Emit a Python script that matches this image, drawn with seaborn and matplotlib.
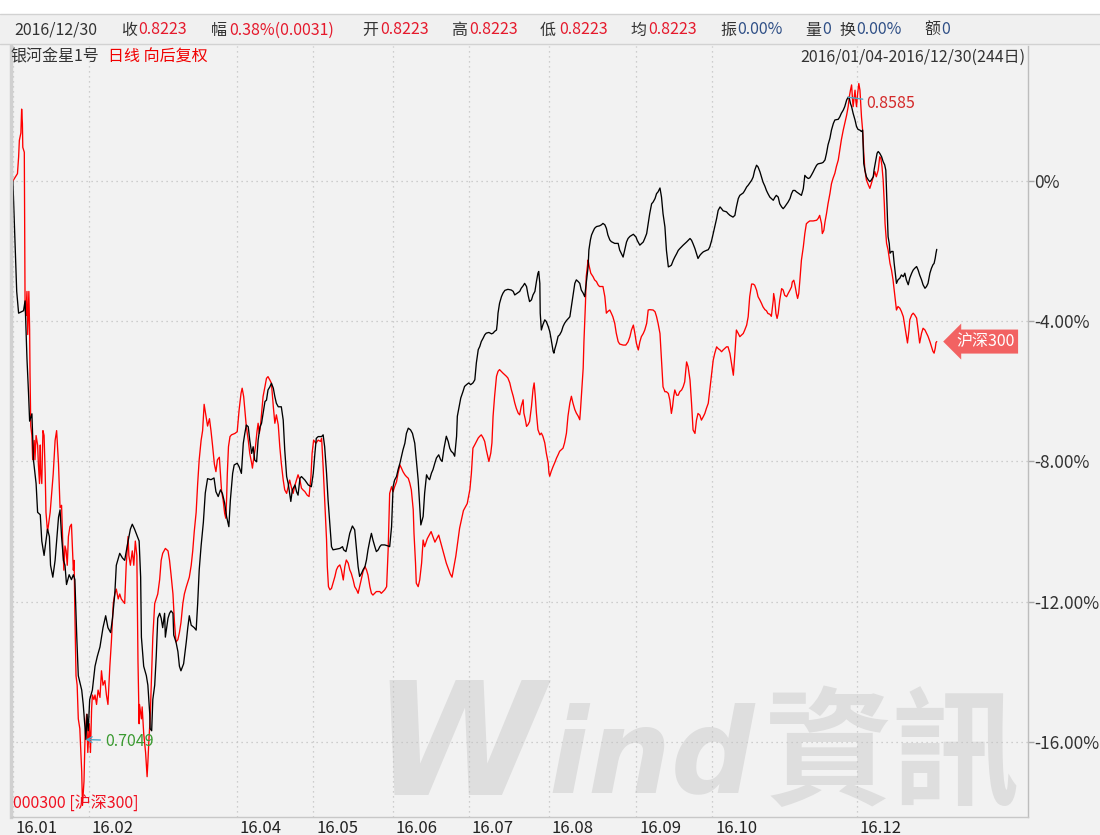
import numpy as np
import pandas as pd
import seaborn as sns
import matplotlib.pyplot as plt
from matplotlib.patches import Rectangle
from matplotlib.lines import Line2D
from matplotlib.ticker import MultipleLocator
from matplotlib.transforms import ScaledTranslation

# 银河金星1号 (black), cumulative change vs 2016/01/04, in %, by trading-day index
fund_day = [0.0, 0.6, 1.0, 1.5, 2.8, 3.2, 3.7, 4.1, 4.4, 5.0, 5.4, 6.1, 6.5, 7.2, 7.6, 8.2, 8.7, 9.1, 9.6, 9.9,
            10.5, 11.1, 11.5, 12.0, 12.4, 12.8, 13.3, 13.7, 14.1, 14.8, 15.4, 15.9, 16.3, 16.8, 17.2, 18.1, 18.5, 19.2, 19.5, 19.8,
            20.2, 20.9, 21.6, 22.2, 22.9, 23.7, 24.4, 25.0, 25.7, 26.2, 26.8, 27.2, 28.1, 28.8, 29.4, 30.3, 30.9, 31.4, 32.0, 32.5,
            33.2, 33.6, 33.8, 34.4, 35.1, 35.5, 36.0, 36.1, 36.5, 36.8, 37.3, 37.7, 38.1, 38.6, 39.0, 39.4, 39.9, 40.1, 40.8, 41.2,
            41.6, 42.1, 42.3, 42.9, 43.4, 43.8, 44.2, 44.9, 45.6, 46.0, 46.4, 46.9, 47.7, 48.2, 48.6, 49.0, 49.5, 50.1, 50.6, 51.2,
            52.1, 52.9, 53.4, 54.0, 54.6, 55.1, 55.7, 56.2, 56.8, 57.2, 57.8, 58.2, 59.0, 59.5, 60.1, 60.6, 61.0, 61.4, 61.9, 62.3,
            62.8, 63.2, 63.6, 64.1, 64.5, 65.0, 65.4, 65.8, 66.3, 66.7, 67.1, 67.6, 68.0, 68.5, 68.9, 69.3, 69.8, 70.6, 71.1, 71.5,
            72.0, 72.4, 72.8, 73.1, 73.5, 74.2, 74.6, 75.0, 75.5, 75.9, 76.8, 77.7, 78.5, 79.0, 79.4, 79.8, 80.3, 81.2, 81.6, 82.0,
            82.5, 82.9, 83.4, 83.8, 84.2, 85.1, 86.0, 86.7, 87.0, 87.6, 87.9, 88.6, 89.3, 89.9, 90.4, 90.8, 91.2, 91.7, 92.1, 92.6,
            93.0, 93.4, 93.9, 94.3, 94.7, 95.2, 95.6, 96.1, 96.5, 96.9, 97.8, 98.7, 99.1, 99.6, 100.0, 100.4, 100.9, 101.3, 101.8, 102.2,
            102.6, 103.1, 103.5, 104.0, 104.6, 105.1, 105.7, 106.1, 106.6, 107.0, 107.3, 107.9, 108.3, 108.8, 109.2, 109.6, 110.1, 110.5, 111.0, 111.4,
            112.0, 112.5, 112.9, 113.4, 114.0, 114.5, 114.9, 115.3, 115.8, 116.2, 116.7, 116.9, 117.4, 117.8, 118.4, 118.8, 119.3, 119.9, 120.4, 121.0,
            121.5, 121.9, 122.4, 122.8, 123.2, 123.7, 124.1, 124.5, 125.2, 125.9, 126.3, 126.7, 127.2, 127.4, 127.6, 128.0, 128.5, 128.9, 129.4, 130.2,
            131.1, 131.6, 132.0, 132.4, 132.9, 133.3, 133.7, 134.2, 134.6, 135.1, 135.5, 135.9, 136.4, 136.8, 137.3, 137.7, 138.1, 138.3, 138.6, 138.7,
            139.0, 139.4, 139.9, 140.3, 140.8, 141.2, 141.6, 142.1, 142.3, 142.5, 143.0, 143.4, 143.8, 144.3, 144.7, 145.1, 145.6, 146.2, 146.5, 146.9,
            147.3, 147.8, 148.2, 148.7, 149.1, 149.5, 150.0, 150.4, 150.6, 150.8, 151.3, 151.5, 151.9, 152.2, 152.6, 153.0, 153.5, 154.3, 154.8, 155.2,
            155.7, 156.1, 156.5, 157.0, 157.4, 158.3, 159.2, 159.6, 160.0, 160.5, 161.0, 161.4, 161.8, 162.3, 163.2, 163.9, 164.2, 164.9, 165.3, 165.8,
            166.2, 166.7, 167.1, 167.5, 168.0, 168.4, 168.9, 169.3, 169.7, 170.2, 170.6, 171.0, 171.5, 171.9, 172.4, 172.8, 173.2, 173.7, 174.1, 174.6,
            175.0, 175.4, 176.3, 177.2, 178.1, 178.5, 178.9, 179.4, 179.8, 180.2, 180.7, 181.1, 181.6, 182.4, 182.9, 183.3, 183.8, 184.2, 184.6, 185.1,
            185.5, 186.0, 186.4, 186.8, 187.7, 188.1, 188.6, 189.4, 189.9, 190.3, 190.8, 191.2, 192.1, 192.5, 193.0, 193.4, 193.8, 194.3, 194.7, 195.1,
            195.6, 196.0, 196.5, 196.9, 197.3, 197.8, 198.2, 198.6, 199.1, 199.5, 200.0, 200.4, 200.8, 201.3, 201.7, 202.2, 202.6, 203.0, 203.5, 203.9,
            204.4, 204.8, 205.2, 205.7, 206.1, 207.0, 207.4, 207.9, 208.3, 208.7, 209.2, 209.6, 210.0, 210.5, 210.9, 211.4, 211.8, 212.7, 213.1, 213.6,
            214.0, 214.4, 214.9, 215.3, 215.8, 216.2, 217.1, 217.5, 217.9, 218.4, 218.8, 219.3, 219.7, 220.0, 220.3, 220.6, 221.0, 221.5, 221.9, 222.3,
            222.8, 223.2, 223.5, 223.8, 224.1, 224.5, 225.0, 225.4, 225.8, 226.3, 226.5, 227.0, 227.3, 227.6, 228.0, 228.5, 228.9, 229.3, 229.6, 229.8,
            230.0, 230.2, 230.5, 230.7, 231.1, 231.5, 231.8, 232.1, 232.4, 232.8, 233.3, 233.7, 234.2, 234.6, 235.0, 235.5, 235.9, 236.4, 236.8, 237.2,
            237.7, 238.1, 238.5, 239.0, 239.4, 239.9, 240.3, 240.7, 241.2, 241.6, 242.0, 242.3, 242.6, 242.8, 243.0]
fund_pct = [0.00, -1.92, -3.15, -3.77, -3.70, -3.42, -5.07, -6.03, -6.85, -6.64, -7.95, -8.63, -9.45, -9.52, -10.27, -10.68, -10.27, -9.93, -10.14, -10.96,
            -11.30, -10.82, -10.27, -9.59, -9.38, -10.14, -10.82, -10.96, -11.51, -11.23, -11.37, -11.23, -11.37, -13.01, -14.11, -14.52, -14.93, -15.93, -15.21, -15.68,
            -14.79, -14.52, -13.84, -13.56, -13.29, -12.74, -12.40, -12.74, -12.88, -12.47, -11.78, -10.96, -10.62, -10.75, -10.82, -10.27, -9.93, -9.79, -9.93, -10.07,
            -10.27, -11.30, -13.01, -13.84, -14.11, -14.38, -15.21, -15.62, -15.68, -14.79, -14.38, -13.56, -12.47, -12.33, -12.47, -12.74, -12.33, -13.01, -12.47, -12.33,
            -12.26, -12.33, -12.95, -13.15, -13.42, -13.84, -13.97, -13.77, -13.15, -12.74, -12.40, -12.67, -12.74, -12.81, -12.05, -11.10, -10.41, -9.73, -8.90, -8.49,
            -8.52, -8.47, -8.86, -9.00, -8.81, -8.91, -9.19, -9.57, -9.86, -9.10, -8.34, -8.10, -8.05, -8.15, -8.34, -7.48, -7.20, -6.96, -7.01, -7.39,
            -7.77, -7.58, -7.96, -8.01, -7.39, -7.01, -6.91, -6.63, -6.29, -6.25, -5.96, -5.87, -5.77, -5.91, -6.15, -6.34, -6.44, -6.44, -6.82, -7.67,
            -8.43, -8.62, -8.91, -9.14, -8.81, -8.67, -8.86, -8.96, -8.48, -8.43, -8.53, -8.67, -8.72, -8.34, -7.81, -7.34, -7.29, -7.29, -7.24, -7.58,
            -8.34, -9.10, -9.86, -10.43, -10.52, -10.50, -10.48, -10.43, -10.52, -10.57, -10.43, -10.05, -9.84, -9.95, -10.52, -11.00, -11.28, -11.19, -11.09, -11.00,
            -10.81, -10.52, -10.24, -10.05, -10.24, -10.43, -10.57, -10.52, -10.43, -10.38, -10.38, -10.41, -10.43, -9.86, -8.72, -8.53, -8.43, -8.24, -8.05, -7.86,
            -7.67, -7.48, -7.20, -7.05, -7.10, -7.20, -7.48, -7.96, -8.53, -9.29, -9.81, -9.57, -8.90, -8.38, -8.47, -8.52, -8.33, -8.23, -8.04, -7.90,
            -7.81, -7.95, -8.00, -7.62, -7.28, -7.43, -7.62, -7.71, -7.76, -7.85, -7.28, -6.71, -6.43, -6.19, -6.00, -5.86, -5.81, -5.76, -5.81, -5.76,
            -5.67, -5.19, -4.81, -4.72, -4.58, -4.48, -4.39, -4.34, -4.32, -4.36, -4.34, -4.29, -4.25, -4.06, -3.77, -3.49, -3.30, -3.20, -3.12, -3.09,
            -3.11, -3.15, -3.25, -3.22, -3.18, -3.15, -3.06, -2.99, -2.92, -3.01, -3.25, -3.44, -3.39, -3.25, -3.15, -2.87, -2.63, -2.58, -2.92, -3.77,
            -4.25, -4.10, -3.96, -4.01, -4.15, -4.29, -4.53, -4.86, -4.91, -4.81, -4.62, -4.43, -4.39, -4.29, -4.15, -4.06, -3.98, -3.91, -3.87, -3.58,
            -3.30, -2.92, -2.82, -2.87, -2.92, -3.11, -3.20, -3.30, -3.11, -2.92, -2.44, -1.97, -1.68, -1.54, -1.44, -1.35, -1.30, -1.28, -1.25, -1.21,
            -1.25, -1.35, -1.54, -1.68, -1.73, -1.78, -1.78, -1.97, -2.06, -2.17, -1.93, -1.74, -1.64, -1.58, -1.52, -1.60, -1.69, -1.83, -1.79, -1.74,
            -1.64, -1.50, -1.22, -0.93, -0.65, -0.60, -0.50, -0.36, -0.31, -0.20, -0.46, -0.93, -1.31, -1.98, -2.45, -2.43, -2.40, -2.26, -2.17, -2.07,
            -1.98, -1.93, -1.83, -1.74, -1.64, -1.69, -1.79, -1.93, -2.07, -2.21, -2.12, -2.07, -2.02, -1.98, -1.96, -1.88, -1.69, -1.50, -1.31, -1.07,
            -0.84, -0.74, -0.79, -0.85, -0.88, -0.93, -0.98, -1.03, -0.98, -0.74, -0.50, -0.41, -0.34, -0.27, -0.17, -0.12, -0.06, 0.02, 0.11, 0.30,
            0.45, 0.40, 0.26, 0.11, -0.03, -0.15, -0.27, -0.36, -0.46, -0.50, -0.55, -0.47, -0.41, -0.46, -0.65, -0.74, -0.79, -0.74, -0.66, -0.60,
            -0.50, -0.36, -0.27, -0.27, -0.31, -0.38, -0.41, -0.22, 0.16, 0.11, 0.07, 0.09, 0.16, 0.26, 0.35, 0.45, 0.49, 0.51, 0.53, 0.60,
            0.79, 1.03, 1.22, 1.45, 1.64, 1.74, 1.76, 1.83, 1.93, 2.02, 2.12, 2.31, 2.39, 2.36, 2.21, 2.12, 1.93, 1.74, 1.55, 1.47,
            1.45, 1.41, 1.45, 0.50, 0.31, 0.12, 0.03, -0.02, 0.03, 0.12, 0.31, 0.60, 0.79, 0.84, 0.79, 0.69, 0.55, 0.46, 0.31, -0.35,
            -1.02, -1.59, -1.78, -2.06, -2.01, -2.01, -2.35, -2.63, -2.92, -2.82, -2.77, -2.68, -2.73, -2.63, -2.82, -2.96, -2.77, -2.63, -2.54, -2.49,
            -2.44, -2.54, -2.68, -2.82, -2.96, -3.06, -3.01, -2.92, -2.63, -2.49, -2.39, -2.35, -2.20, -2.06, -1.95]

# 沪深300 (red), same scale
hs300_day = [0.0, 1.2, 1.5, 1.7, 2.1, 2.3, 2.5, 2.6, 3.0, 3.2, 3.4, 3.7, 3.9, 4.2, 4.4, 4.5, 4.7, 5.0, 5.2, 5.6,
             5.8, 6.1, 6.5, 6.7, 7.0, 7.2, 7.3, 7.6, 7.9, 8.2, 8.5, 8.7, 9.1, 9.3, 9.8, 10.2, 10.6, 11.1, 11.5, 12.0,
             12.4, 12.8, 13.1, 13.4, 13.7, 14.0, 14.3, 14.6, 15.0, 15.4, 15.9, 16.1, 16.3, 16.6, 16.9, 17.2, 17.6, 18.1, 18.3, 18.7,
             19.0, 19.4, 19.7, 20.1, 20.4, 20.7, 20.9, 21.3, 21.6, 22.0, 22.4, 22.9, 23.3, 23.7, 24.2, 24.6, 25.0, 25.5, 25.9, 26.4,
             26.8, 27.2, 27.7, 28.1, 28.5, 29.4, 29.8, 30.3, 30.5, 30.9, 31.4, 31.8, 32.2, 32.6, 32.9, 33.2, 33.3, 33.8, 34.0, 34.4,
             34.9, 35.3, 35.5, 35.8, 36.1, 36.4, 36.8, 37.3, 37.7, 38.1, 38.6, 39.0, 39.4, 40.1, 40.8, 41.2, 41.6, 42.1, 42.5, 42.9,
             43.4, 43.8, 44.2, 44.7, 45.1, 45.6, 46.0, 46.4, 46.9, 47.3, 47.7, 48.2, 48.6, 49.0, 49.5, 49.9, 50.3, 50.8, 51.2, 51.7,
             52.1, 52.5, 53.0, 53.4, 53.8, 54.3, 54.9, 55.3, 55.7, 56.0, 56.2, 56.4, 56.7, 57.1, 57.5, 58.4, 59.0, 59.5, 60.0, 60.3,
             60.7, 61.0, 61.4, 61.9, 62.3, 62.8, 63.0, 63.4, 63.8, 64.2, 64.5, 64.8, 65.1, 65.4, 65.8, 66.3, 66.7, 67.1, 67.6, 68.0,
             68.5, 68.9, 69.3, 69.8, 70.2, 70.6, 71.1, 71.5, 72.0, 72.4, 72.8, 73.3, 73.7, 74.2, 74.6, 75.0, 75.5, 75.9, 76.3, 76.8,
             77.4, 77.9, 78.4, 78.7, 79.1, 79.7, 80.3, 80.9, 81.2, 81.6, 82.0, 82.5, 82.7, 83.0, 83.4, 83.8, 84.2, 84.7, 85.1, 85.5,
             86.0, 86.4, 86.9, 87.3, 87.7, 88.2, 88.6, 89.0, 89.5, 89.9, 90.4, 90.8, 91.2, 91.7, 92.1, 92.6, 93.0, 93.4, 93.9, 94.3,
             94.7, 95.6, 96.5, 96.9, 97.8, 98.3, 98.7, 99.1, 99.6, 100.0, 100.4, 100.9, 101.3, 101.8, 102.2, 102.6, 103.1, 103.5, 104.0, 104.4,
             104.8, 105.3, 105.5, 105.9, 106.1, 106.6, 107.0, 107.5, 107.9, 108.3, 109.0, 110.0, 111.0, 112.0, 113.0, 114.0, 115.0, 115.5, 116.5, 117.5,
             118.5, 119.5, 120.2, 120.6, 121.0, 121.5, 122.4, 122.8, 123.2, 123.7, 124.1, 124.5, 125.0, 125.2, 125.7, 126.0, 126.3, 126.7, 127.2, 127.6,
             128.0, 128.9, 129.8, 130.2, 130.7, 131.1, 131.6, 132.0, 132.4, 132.9, 133.3, 133.7, 134.2, 134.4, 134.8, 135.1, 135.5, 135.9, 136.4, 136.8,
             137.1, 137.4, 137.7, 138.1, 138.6, 139.0, 139.4, 139.9, 140.3, 140.8, 141.0, 141.2, 141.6, 142.1, 142.5, 143.0, 143.4, 143.8, 144.3, 144.7,
             145.1, 145.6, 146.0, 146.5, 146.9, 147.3, 147.8, 148.2, 148.7, 149.1, 149.3, 149.7, 150.0, 150.2, 150.6, 150.8, 151.3, 151.5, 152.0, 152.6,
             153.0, 153.5, 153.9, 154.3, 155.2, 155.7, 156.1, 156.5, 157.0, 157.4, 157.8, 158.3, 158.7, 159.2, 159.6, 160.5, 161.2, 161.8, 162.3, 162.7,
             163.2, 163.6, 164.0, 164.5, 164.9, 165.3, 165.8, 166.2, 166.7, 167.1, 167.5, 168.4, 168.9, 169.3, 169.7, 170.2, 170.6, 171.0, 171.5, 171.9,
             172.4, 172.8, 173.2, 173.5, 173.8, 174.1, 174.6, 175.0, 175.4, 175.9, 176.3, 176.7, 177.2, 177.6, 178.1, 178.5, 178.9, 179.4, 179.8, 180.2,
             180.7, 181.1, 181.6, 182.0, 182.4, 182.9, 183.3, 183.8, 184.2, 184.6, 185.1, 185.5, 186.0, 186.4, 186.8, 187.7, 188.1, 188.6, 189.0, 189.5,
             189.9, 190.3, 190.8, 191.2, 191.6, 192.1, 192.5, 193.0, 193.4, 193.8, 194.3, 194.7, 195.1, 195.6, 196.0, 196.5, 196.9, 197.3, 197.8, 198.2,
             198.6, 199.1, 199.5, 200.0, 200.1, 200.4, 200.7, 201.0, 201.3, 201.7, 202.2, 202.6, 203.0, 203.5, 203.9, 204.4, 204.8, 205.0, 205.4, 205.7,
             206.1, 206.4, 206.7, 207.0, 207.4, 207.9, 208.3, 208.7, 209.2, 209.6, 210.5, 211.4, 211.8, 212.2, 212.7, 212.9, 213.3, 213.6, 214.0, 214.4,
             214.9, 215.3, 215.7, 216.2, 216.6, 217.1, 217.5, 217.9, 218.4, 218.8, 219.3, 219.7, 220.0, 220.3, 220.6, 220.8, 221.0, 221.2, 221.5, 221.7,
             221.9, 222.2, 222.5, 222.8, 223.0, 223.2, 223.5, 223.6, 223.8, 224.1, 224.5, 225.0, 225.4, 225.8, 226.3, 226.7, 227.1, 227.6, 227.9, 228.0,
             228.3, 228.6, 228.9, 229.2, 229.4, 229.8, 230.2, 230.7, 231.1, 231.5, 232.0, 232.4, 232.8, 233.3, 233.7, 234.2, 234.6, 235.0, 235.3, 235.7,
             235.9, 236.4, 236.8, 237.2, 237.7, 238.1, 238.5, 239.0, 239.4, 239.9, 240.3, 240.7, 241.2, 241.6, 242.0, 242.3, 242.6, 242.8, 243.0]
hs300_pct = [0.00, 0.21, 0.68, 1.16, 1.37, 2.05, 1.64, 0.96, 0.82, -3.56, -3.84, -3.15, -4.38, -3.15, -4.25, -5.48, -6.99, -7.26, -7.95, -7.40,
             -7.95, -7.26, -7.53, -8.08, -8.63, -7.53, -8.22, -8.63, -7.12, -7.26, -8.36, -9.45, -10.00, -9.86, -9.45, -8.90, -8.36, -7.40, -7.12, -8.08,
             -9.32, -9.25, -10.27, -11.10, -10.41, -10.55, -10.96, -10.14, -9.86, -9.79, -11.10, -10.82, -12.33, -14.11, -14.38, -15.34, -15.62, -16.85, -17.81, -17.12,
             -15.75, -15.21, -16.30, -15.48, -16.30, -15.07, -14.66, -14.79, -14.66, -14.93, -14.52, -14.73, -13.97, -14.38, -14.25, -14.66, -14.93, -13.84, -13.15, -12.05,
             -11.78, -11.64, -11.92, -11.78, -11.92, -12.05, -10.96, -10.14, -10.68, -10.96, -10.55, -10.96, -10.27, -10.68, -13.70, -15.48, -14.93, -15.34, -15.00, -15.75,
             -16.30, -16.99, -16.58, -15.89, -15.34, -14.38, -13.01, -12.05, -11.92, -11.78, -11.37, -10.82, -10.62, -10.48, -10.55, -10.82, -11.23, -11.78, -12.60, -13.15,
             -13.08, -12.88, -12.60, -12.05, -11.78, -11.58, -11.44, -11.30, -10.96, -10.55, -10.00, -9.45, -8.63, -7.95, -7.40, -7.12, -6.37, -6.71, -6.99, -6.78,
             -7.12, -7.53, -8.08, -8.29, -7.95, -7.88, -8.86, -9.10, -9.48, -9.62, -9.10, -8.34, -7.58, -7.29, -7.24, -7.20, -7.15, -6.53, -6.06, -5.91,
             -6.15, -6.53, -7.01, -7.39, -7.77, -8.05, -8.19, -7.86, -7.58, -7.15, -6.91, -7.20, -7.01, -6.63, -6.15, -5.87, -5.63, -5.58, -5.68, -5.77,
             -6.44, -6.91, -6.67, -6.96, -7.58, -8.05, -8.53, -8.81, -8.91, -8.72, -8.53, -8.76, -8.91, -8.67, -8.53, -8.38, -8.53, -8.76, -8.81, -8.86,
             -8.96, -9.00, -8.43, -7.77, -7.39, -7.48, -7.39, -7.43, -7.34, -8.15, -9.10, -10.24, -11.00, -11.57, -11.66, -11.62, -11.47, -11.28, -11.09, -11.00,
             -10.95, -11.09, -11.38, -11.00, -10.81, -10.90, -11.09, -11.19, -11.38, -11.57, -11.66, -11.76, -11.57, -11.33, -11.14, -11.00, -11.09, -11.24, -11.57, -11.76,
             -11.81, -11.71, -11.71, -11.76, -11.66, -11.57, -10.52, -8.91, -8.72, -8.86, -8.72, -8.58, -8.34, -8.10, -8.19, -8.29, -8.38, -8.43, -8.48, -8.62,
             -8.81, -9.38, -10.05, -10.90, -11.47, -11.57, -11.38, -10.90, -10.24, -10.43, -10.20, -10.00, -10.30, -10.10, -10.50, -10.90, -11.20, -11.30, -10.70, -9.90,
             -9.40, -9.20, -8.80, -8.33, -7.62, -7.52, -7.33, -7.28, -7.24, -7.33, -7.43, -7.66, -7.90, -8.00, -7.76, -7.47, -6.71, -6.14, -5.57, -5.43,
             -5.38, -5.48, -5.57, -5.62, -5.76, -5.95, -6.14, -6.33, -6.48, -6.62, -6.67, -6.43, -6.24, -6.62, -6.81, -7.00, -6.95, -6.86, -6.43, -5.95,
             -5.76, -6.14, -6.62, -7.09, -7.24, -7.19, -7.28, -7.47, -7.76, -8.04, -8.33, -8.42, -8.28, -8.14, -8.04, -7.90, -7.81, -7.71, -7.66, -7.62,
             -7.47, -7.19, -6.71, -6.33, -6.14, -6.33, -6.52, -6.62, -6.71, -6.81, -6.52, -5.86, -5.34, -4.58, -3.49, -2.73, -2.25, -2.39, -2.63, -2.73,
             -2.82, -2.87, -2.96, -3.01, -3.01, -3.30, -3.77, -3.72, -3.68, -3.77, -3.87, -4.06, -4.34, -4.58, -4.65, -4.68, -4.68, -4.59, -4.44, -4.25,
             -4.11, -4.35, -4.63, -4.82, -4.59, -4.44, -4.35, -4.25, -4.06, -3.68, -3.67, -3.68, -3.73, -3.87, -4.06, -4.35, -5.11, -5.87, -6.01, -6.01,
             -6.06, -6.25, -6.63, -6.44, -6.15, -5.96, -6.11, -6.11, -6.01, -5.96, -5.87, -5.73, -5.16, -5.30, -5.68, -6.34, -7.10, -7.20, -6.82, -6.63,
             -6.68, -6.82, -6.72, -6.63, -6.49, -6.34, -5.96, -5.49, -5.11, -4.92, -4.73, -4.78, -4.82, -4.87, -4.82, -4.73, -4.73, -4.92, -5.20, -5.54,
             -4.92, -4.25, -4.35, -4.44, -4.40, -4.35, -4.25, -4.11, -3.87, -3.30, -2.94, -2.94, -2.97, -3.11, -3.30, -3.40, -3.49, -3.59, -3.67, -3.70,
             -3.78, -3.80, -3.86, -3.40, -3.21, -3.40, -3.78, -3.92, -3.78, -3.40, -3.07, -3.11, -3.26, -3.30, -3.21, -3.11, -3.02, -2.88, -2.83, -2.97,
             -3.21, -3.35, -3.21, -2.83, -2.26, -1.88, -1.50, -1.22, -1.17, -1.14, -1.14, -1.12, -1.07, -0.98, -1.22, -1.50, -1.41, -1.17, -0.93, -0.65,
             -0.36, -0.08, 0.07, 0.22, 0.41, 0.60, 0.88, 1.17, 1.45, 1.64, 1.88, 2.12, 2.40, 2.59, 2.74, 2.40, 2.12, 2.31, 2.59, 2.31,
             2.12, 2.50, 2.78, 2.59, 2.21, 1.83, 1.45, 1.26, 0.79, 0.31, 0.03, -0.11, -0.21, -0.07, 0.12, 0.27, 0.12, 0.31, 0.60, 0.69,
             0.65, 0.41, 0.03, -0.64, -1.21, -1.78, -1.97, -2.35, -2.54, -2.82, -3.30, -3.68, -3.58, -3.63, -3.72, -3.87, -4.15, -4.43, -4.62, -4.25,
             -3.96, -3.82, -3.77, -3.82, -3.91, -4.25, -4.62, -4.34, -4.20, -4.25, -4.34, -4.43, -4.58, -4.72, -4.86, -4.91, -4.77, -4.61, -4.58]

month_days = [0, 20, 59, 79, 100, 120, 141, 164, 184, 222]
month_labels = ['16.01', '16.02', '16.04', '16.05', '16.06', '16.07', '16.08', '16.09', '16.10', '16.12']
pct_ticks = [0, -4, -8, -12, -16]
pct_labels = ['0%', '-4.00%', '-8.00%', '-12.00%', '-16.00%']

header = [(14, '2016/12/30', '#333333'), (121, '收', '#333333'), (138, '0.8223', '#E5192C'),
          (211, '幅', '#333333'), (229, '0.38%(0.0031)', '#E5192C'), (362, '开', '#333333'),
          (380, '0.8223', '#E5192C'), (451, '高', '#333333'), (469, '0.8223', '#E5192C'),
          (540, '低', '#333333'), (559, '0.8223', '#E5192C'), (630, '均', '#333333'),
          (648, '0.8223', '#E5192C'), (720, '振', '#333333'), (737, '0.00%', '#2F4F86'),
          (805, '量', '#333333'), (822, '0', '#2F4F86'), (839, '换', '#333333'),
          (856, '0.00%', '#2F4F86'), (924, '额', '#333333'), (941, '0', '#2F4F86')]

W, H = 1100, 835
FS = 11.5

sns.set_style('white')
plt.rcParams['font.family'] = ['Noto Sans CJK SC', 'DejaVu Sans']
BG = '#F2F2F2'

fig = plt.figure(figsize=(11, 8.35), dpi=100, facecolor=BG)
ax = fig.add_axes([11 / W, 1 - 817 / H, (1028 - 11) / W, (817 - 46) / H])
ax.set_facecolor(BG)

df = pd.concat([
    pd.DataFrame({'day': hs300_day, 'pct': hs300_pct, 'series': '沪深300'}),
    pd.DataFrame({'day': fund_day, 'pct': fund_pct, 'series': '银河金星1号'}),
])
sns.lineplot(data=df, x='day', y='pct', hue='series', hue_order=['沪深300', '银河金星1号'],
             palette={'沪深300': '#FF0000', '银河金星1号': '#000000'},
             estimator=None, sort=False, legend=False, linewidth=0.95, ax=ax)

ax.set_xlim(-0.5, 267)
ax.set_ylim(-18.14, 3.85)
ax.set_xlabel('')
ax.set_ylabel('')

# right-hand percent axis
ax.yaxis.tick_right()
ax.set_yticks(pct_ticks)
ax.set_yticklabels(pct_labels)
ax.tick_params(axis='y', length=4, width=1, color='#A8A8A8', labelcolor='#333333', labelsize=12.5, pad=0.5)

# months along the bottom
ax.set_xticks(month_days)
ax.set_xticklabels(month_labels)
ax.xaxis.set_minor_locator(MultipleLocator(5))
ax.tick_params(axis='x', which='major', direction='out', length=13, width=1, color='#D0D0D0',
               labelcolor='#222222', labelsize=12, pad=-11)
ax.tick_params(axis='x', which='minor', direction='out', length=3.5, width=1, color='#C0C0C0')
for lbl in ax.get_xticklabels():
    lbl.set_horizontalalignment('left')
    lbl.set_transform(lbl.get_transform() + ScaledTranslation(2 / 72, 0, fig.dpi_scale_trans))

ax.set_axisbelow(True)
ax.grid(True, which='major', color='#C2C2C2', linestyle=(0, (1, 3)), linewidth=0.9)

ax.spines['top'].set_visible(False)
ax.spines['left'].set_color('#D0D0D0')
ax.spines['left'].set_linewidth(2.5)
ax.spines['right'].set_color('#BDBDBD')
ax.spines['right'].set_linewidth(1)
ax.spines['bottom'].set_color('#C8C8C8')
ax.spines['bottom'].set_linewidth(1)

# watermark
WM = '#DEDEDE'
ax.text(372 / W, 1 - 795 / H, 'W', transform=fig.transFigure, fontsize=112, fontstyle='italic',
        fontweight='heavy', color=WM, family='DejaVu Sans', va='baseline', ha='left', zorder=0.1)
ax.text(548 / W, 1 - 792 / H, 'ind', transform=fig.transFigure, fontsize=84, fontstyle='italic',
        fontweight='heavy', color=WM, family='DejaVu Sans', va='baseline', ha='left', zorder=0.1)
ax.text(765 / W, 1 - 795 / H, '資訊', transform=fig.transFigure, fontsize=92, fontweight='bold',
        color=WM, family='Noto Sans CJK TC', va='baseline', ha='left', zorder=0.1)

# header bar
fig.patches.append(Rectangle((0, 1 - 14 / H), 1, 14 / H, transform=fig.transFigure, fc='white', ec='none'))
fig.patches.append(Rectangle((0, 1 - 44 / H), 1, 30 / H, transform=fig.transFigure, fc='#F0F0F0', ec='none'))
for yy in (14, 44):
    fig.lines.append(Line2D([0, 1], [1 - yy / H] * 2, transform=fig.transFigure, color='#D2D2D2', lw=1))
for x, s, c in header:
    fig.text(x / W, 1 - 30 / H, s, color=c, fontsize=FS, va='center', ha='left')

fig.text(10 / W, 1 - 57 / H, '银河金星1号', color='#333333', fontsize=FS, va='center', ha='left')
fig.text(108 / W, 1 - 57 / H, '日线 向后复权', color='#F00000', fontsize=FS, va='center', ha='left')
fig.text(1025 / W, 1 - 57 / H, '2016/01/04-2016/12/30(244日)', color='#333333', fontsize=FS,
         va='center', ha='right')
fig.text(13 / W, 1 - 803 / H, '000300 [沪深300]', color='#F01020', fontsize=FS, va='center', ha='left')

# max / min annotations on the fund line
pk = int(np.argmax(fund_pct))
mn = int(np.argmin(fund_pct))
ax.annotate('0.8585', xy=(fund_day[pk], fund_pct[pk]), xytext=(866, H - 103), textcoords='figure pixels',
            color='#D42A2A', fontsize=FS, va='center', ha='left',
            arrowprops=dict(arrowstyle='-', color='#4AA8C8', lw=1, shrinkA=0, shrinkB=0))
ax.annotate('0.7049', xy=(fund_day[mn], fund_pct[mn]), xytext=(105, H - 741), textcoords='figure pixels',
            color='#3A9A30', fontsize=FS, va='center', ha='left',
            arrowprops=dict(arrowstyle='->,head_length=0.3,head_width=0.18', color='#4AA8C8', lw=1,
                            shrinkA=1, shrinkB=0))

# tag for the index line
ax.annotate('沪深300', xy=(hs300_day[-1], hs300_pct[-1]), xytext=(14, 0), textcoords='offset points',
            color='white', fontsize=FS, va='center', ha='left', annotation_clip=False,
            bbox=dict(boxstyle='larrow,pad=0.22', fc='#F26262', ec='none'))

fig.savefig('out.png', dpi=100, facecolor=BG)
